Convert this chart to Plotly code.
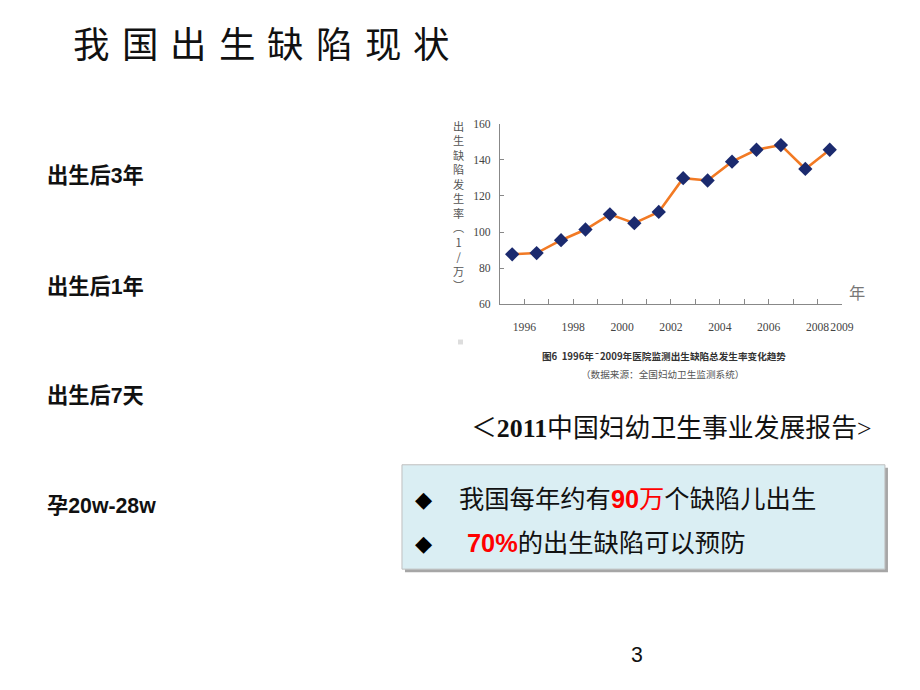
import plotly.graph_objects as go

# ---- data ----
years = [1996, 1997, 1998, 1999, 2000, 2001, 2002, 2003, 2004, 2005, 2006, 2007, 2008, 2009]
rates = [87.7, 88.4, 95.5, 101.4, 109.8, 104.9, 111.1, 129.8, 128.5, 138.9, 145.5, 148.1, 134.9, 145.5]
x_tick_vals = [1995.5, 1996.5, 1997.5, 1998.5, 1999.5, 2000.5, 2001.5, 2002.5,
               2003.5, 2004.5, 2005.5, 2006.5, 2007.5, 2008.5, 2009.5]
x_tick_text = ["", "1996", "", "1998", "", "2000", "", "2002", "", "2004", "", "2006", "", "2008", "2009"]
y_tick_vals = [60, 80, 100, 120, 140, 160]

title_chars = list("我国出生缺陷现状")
left_labels = ["出生后3年", "出生后1年", "出生后7天", "孕20w-28w"]
y_title_chars = list("出生缺陷发生率︵1/万︶")

W, H = 920, 690
S = 0.987      # observed capture scale
YOFF = 4.5     # observed capture vertical offset


def px(x):
    return x / S / W


def py(y):
    return 1 - (y - YOFF) / S / H


def fs(v):
    return v / S


fig = go.Figure()
fig.add_trace(go.Scatter(
    x=years, y=rates, mode="lines+markers",
    line=dict(color="#F27A24", width=2.6),
    marker=dict(symbol="diamond", size=11, color="#1B2A6E"),
    showlegend=False, hoverinfo="skip",
))

serif = "Liberation Serif, Noto Sans CJK SC"
sans = "Liberation Sans, Arial, Noto Sans CJK SC"

fig.update_layout(
    width=W, height=H,
    margin=dict(l=0, r=0, t=0, b=0),
    paper_bgcolor="white", plot_bgcolor="white",
    xaxis=dict(
        domain=[px(500), px(842)], range=[1995.5, 2009.5],
        tickmode="array", tickvals=x_tick_vals, ticktext=x_tick_text,
        ticks="inside", ticklen=5, tickcolor="#888", tickwidth=1,
        showline=True, linecolor="#888", linewidth=1,
        showgrid=False, zeroline=False, tickangle=0,
        tickfont=dict(family=serif, size=fs(11.5), color="#444"),
        ticklabelstandoff=12,
    ),
    yaxis=dict(
        domain=[py(304.7), py(122.7)], range=[60, 160],
        tickmode="array", tickvals=y_tick_vals,
        ticks="inside", ticklen=4, tickcolor="#888", tickwidth=1,
        showline=True, linecolor="#888", linewidth=1,
        showgrid=False, zeroline=False,
        tickfont=dict(family=serif, size=fs(11.5), color="#444"),
        ticklabelstandoff=6,
    ),
)

ann = []
for i, ch in enumerate(title_chars):
    ann.append(dict(x=px(91 + i * 48.6), y=py(41), text=ch, showarrow=False,
                    xref="paper", yref="paper", xanchor="center", yanchor="middle",
                    font=dict(family="Noto Sans CJK SC", size=fs(36), color="#111")))
for lab, yy in zip(left_labels, [176, 287, 397, 507]):
    ann.append(dict(x=px(45), y=py(yy), text="<b>" + lab + "</b>", showarrow=False,
                    xref="paper", yref="paper", xanchor="left", yanchor="middle",
                    font=dict(family=sans, size=fs(21), color="#111")))
ann.append(dict(x=px(459), y=py(205), text="<br>".join(y_title_chars), showarrow=False,
                xref="paper", yref="paper", xanchor="center", yanchor="middle",
                font=dict(family="Noto Sans CJK SC", size=fs(11), color="#555")))
ann.append(dict(x=px(857), y=py(292), text="年", showarrow=False,
                xref="paper", yref="paper", xanchor="center", yanchor="middle",
                font=dict(family="Noto Sans CJK SC", size=fs(16), color="#777")))
ann.append(dict(x=px(664), y=py(357), text="<b>图6  1996年¯2009年医院监测出生缺陷总发生率变化趋势</b>",
                showarrow=False, xref="paper", yref="paper", xanchor="center", yanchor="middle",
                font=dict(family="Noto Sans CJK SC", size=fs(9.5), color="#333")))
ann.append(dict(x=px(663), y=py(375), text="（数据来源：全国妇幼卫生监测系统）",
                showarrow=False, xref="paper", yref="paper", xanchor="center", yanchor="middle",
                font=dict(family="Noto Sans CJK SC", size=fs(9.5), color="#555")))
ann.append(dict(x=px(672), y=py(430), text="＜<b>2011</b>中国妇幼卫生事业发展报告>",
                showarrow=False, xref="paper", yref="paper", xanchor="center", yanchor="middle",
                font=dict(family=serif, size=fs(25.5), color="#111")))
for yy in [500, 545]:
    ann.append(dict(x=px(424), y=py(yy), text="◆", showarrow=False,
                    xref="paper", yref="paper", xanchor="center", yanchor="middle",
                    font=dict(family="DejaVu Sans", size=fs(22), color="#000")))
ann.append(dict(x=px(457), y=py(500),
                text="我国每年约有<span style='color:#FF0000'><b>90</b>万</span>个缺陷儿出生",
                showarrow=False, xref="paper", yref="paper", xanchor="left", yanchor="middle",
                font=dict(family=sans, size=fs(25), color="#111")))
ann.append(dict(x=px(465), y=py(545),
                text="<span style='color:#FF0000'><b>70%</b></span>的出生缺陷可以预防",
                showarrow=False, xref="paper", yref="paper", xanchor="left", yanchor="middle",
                font=dict(family=sans, size=fs(25), color="#111")))
ann.append(dict(x=px(637), y=py(657), text="3", showarrow=False,
                xref="paper", yref="paper", xanchor="center", yanchor="middle",
                font=dict(family=sans, size=fs(21), color="#111")))
fig.update_layout(annotations=ann)

shapes = [
    dict(type="rect", xref="paper", yref="paper", x0=px(405), x1=px(888), y0=py(574), y1=py(469),
         fillcolor="#A6A6A6", line=dict(width=0), layer="below"),
    dict(type="rect", xref="paper", yref="paper", x0=px(402), x1=px(885), y0=py(571), y1=py(466),
         fillcolor="#DAEEF3", line=dict(color="#BFBFBF", width=1), layer="below"),
    dict(type="rect", xref="paper", yref="paper", x0=px(458), x1=px(463), y0=py(345), y1=py(340),
         fillcolor="#DDDDDD", line=dict(width=0)),
]
fig.update_layout(shapes=shapes)

fig.write_html("out.html", config={"displayModeBar": False},
               post_script="document.body.style.margin='0';document.body.style.padding='0';")
